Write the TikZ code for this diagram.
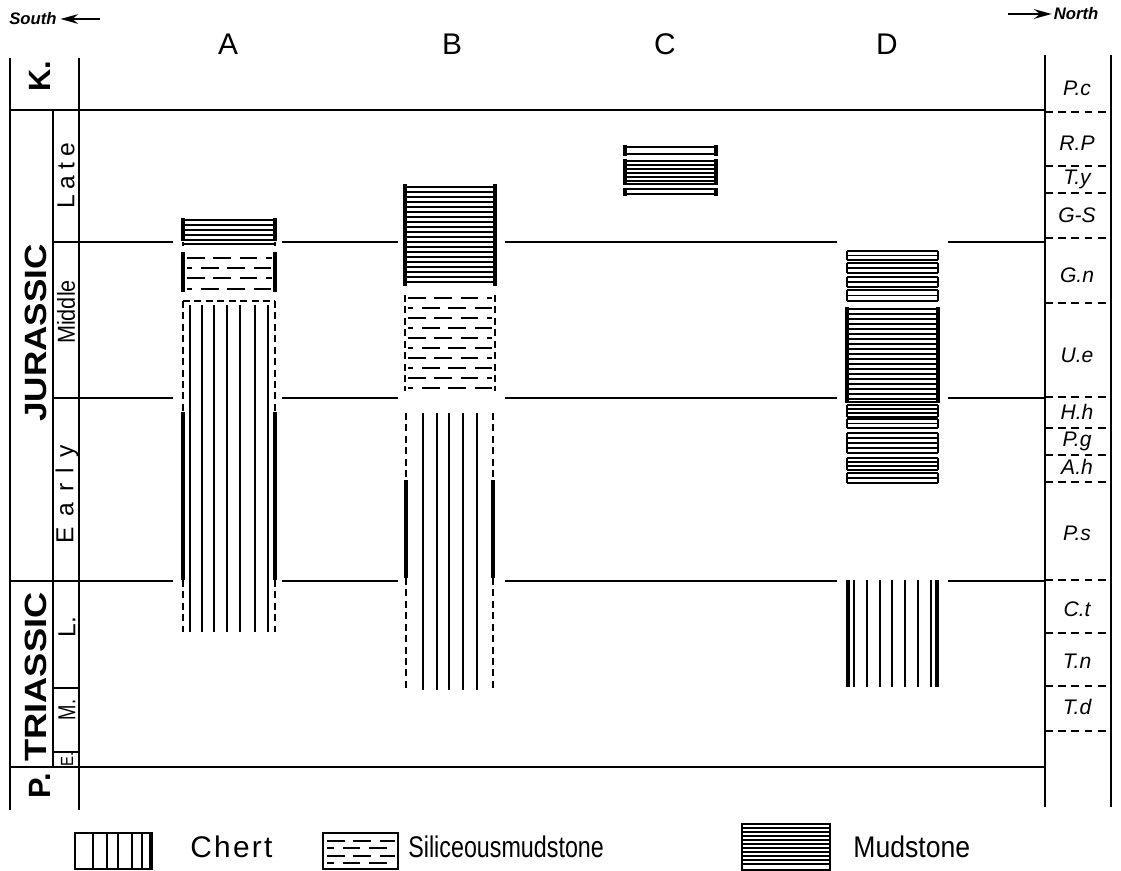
\documentclass[tikz,border=0pt]{standalone}
\usepackage{fontspec}
\setmainfont{Liberation Sans}
\usetikzlibrary{arrows.meta}
\newcommand\hsc[2]{\scalebox{#1}[1]{#2}}
\begin{document}
\begin{tikzpicture}[x=0.02cm,y=-0.02cm,
  frame/.style={line width=1.2pt},
  bnd/.style={line width=1.1pt},
  rdash/.style={line width=1pt,dash pattern=on 4.5pt off 3pt},
  lith/.style={line width=0.85pt},
  thk/.style={line width=2.2pt},
  sdash/.style={line width=1.1pt,dash pattern=on 10pt off 5pt},
  edash/.style={line width=1.4pt,dash pattern=on 4pt off 2.5pt},
  colhead/.style={font=\fontsize{17}{17}\selectfont,inner sep=0pt},
  era/.style={font=\bfseries\fontsize{17.5}{17.5}\selectfont,rotate=90,inner sep=0pt},
  epoch/.style={font=\fontsize{14}{14}\selectfont,rotate=90,inner sep=0pt},
  zone/.style={font=\itshape\fontsize{12}{12}\selectfont,inner sep=0pt},
  leg/.style={font=\fontsize{17}{17}\selectfont,inner sep=0pt,anchor=west},
  dir/.style={font=\bfseries\itshape\fontsize{9.5}{9.5}\selectfont,inner sep=0pt},
  arr/.style={line width=1pt,-{Stealth[length=10pt,width=5.5pt]}},
]
\useasboundingbox (0,0) rectangle (1121,871);

% ---------- frame ----------
\draw[frame] (10,58) -- (10,810);
\draw[frame] (79,58) -- (79,810);
\draw[frame] (53,110) -- (53,767);
\draw[frame] (1045,55) -- (1045,807);
\draw[frame] (1111,55) -- (1111,807);

\draw[bnd] (10,110) -- (1045,110);
\draw[bnd] (10,767) -- (1045,767);
\draw[bnd] (53,242) -- (173,242) (282,242) -- (398,242) (505,242) -- (837,242) (948,242) -- (1045,242);
\draw[bnd] (53,398) -- (173,398) (282,398) -- (398,398) (505,398) -- (837,398) (948,398) -- (1045,398);
\draw[bnd] (10,581) -- (173,581) (282,581) -- (398,581) (505,581) -- (837,581) (948,581) -- (1045,581);
\draw[bnd] (53,688) -- (79,688);
\draw[bnd] (53,752) -- (79,752);

% right zone column
\foreach \yy in {112,166,193,238,303,397,428,455,482,580,633,686,731}
  \draw[rdash] (1045,\yy) -- (1111,\yy);

% ---------- labels ----------
\node[dir] (south) at (33,19) {South};
\coordinate (sarr) at (100,19);
\draw[arr] (sarr) -- ([xshift=2pt]south.east);
\node[dir] (north) at (1076,14) {North};
\coordinate (narr) at (1008,14);
\draw[arr] (narr) -- ([xshift=-1pt]north.west);

\node[colhead] (hA) at (228,44) {A};
\node[colhead] (hB) at (452,44) {B};
\node[colhead] (hC) at (665,44) {C};
\node[colhead] (hD) at (887,44) {D};

\node[era] (kLab) at (40,76) {K.};
\node[era] (jurLab) at (36,333) {\hsc{1.14}{JURASSIC}};
\node[era] (triLab) at (36,677) {\hsc{1.18}{TRIASSIC}};
\node[era] (pLab) at (40,786) {P.};

\node[epoch] (late) at (66,176) {L\hspace{3.4pt}a\hspace{3.4pt}t\hspace{3.4pt}e};
\node[epoch] (mid) at (66,312) {\hsc{0.88}{Middle}};
\node[epoch] (early) at (67,494) {E\hspace{6pt}a\hspace{6pt}r\hspace{6pt}l\hspace{6pt}y};
\node[epoch] (lTri) at (67,627) {L.};
\node[epoch] (mTri) at (67,710) {\hsc{0.75}{M.}};
\node[epoch,font=\fontsize{10}{10}\selectfont] (eTri) at (67,759) {\hsc{0.85}{E.}};

\node[zone] (zPc) at (1077,88) {P.c};
\node[zone] (zRP) at (1077,143) {R.P};
\node[zone] (zTy) at (1077,179) {T.y};
\node[zone] (zGS) at (1077,215) {G-S};
\node[zone] (zGn) at (1077,275) {G.n};
\node[zone] (zUe) at (1077,355) {U.e};
\node[zone] (zHh) at (1077,412) {H.h};
\node[zone] (zPg) at (1077,441) {P.g};
\node[zone] (zAh) at (1077,467) {A.h};
\node[zone] (zPs) at (1077,533) {P.s};
\node[zone] (zCt) at (1077,609) {C.t};
\node[zone] (zTn) at (1077,661) {T.n};
\node[zone] (zTd) at (1077,707) {T.d};

% ---------- column A ----------
\foreach \yy in {220,225,230,235,240,244} \draw[lith] (183,\yy) -- (275,\yy);
\draw[thk] (183,218) -- (183,241) (275,218) -- (275,241);
\draw[lith] (183,242) -- (183,246) (275,242) -- (275,246);
\draw[thk] (183,252) -- (183,292) (275,252) -- (275,292);
\foreach \yy/\ph in {258/0,268/7,278/0,289/7}
  \draw[sdash,dash phase=\ph pt] (187,\yy) -- (272,\yy);
\draw[edash] (183,301) -- (275,301);
\draw[edash] (183,301) -- (183,412) (275,301) -- (275,412);
\draw[thk] (183,412) -- (183,580) (275,412) -- (275,580);
\draw[edash] (183,580) -- (183,632) (275,580) -- (275,632);
\foreach \xx in {190,202,214,227,240,255,268} \draw[lith] (\xx,305) -- (\xx,632);

% ---------- column B ----------
\foreach \yy in {187,192,...,283} \draw[lith] (405,\yy) -- (495,\yy);
\draw[thk] (405,184) -- (405,286) (495,184) -- (495,286);
\foreach \yy/\ph in {298/0,308/7,318/0,328/7,338/0,348/7,358/0,368/7,378/0,388/7}
  \draw[sdash,dash phase=\ph pt] (408,\yy) -- (492,\yy);
\draw[edash] (405,295) -- (405,391) (495,295) -- (495,391);
\draw[edash] (406,413) -- (406,480) (493,413) -- (493,480);
\draw[thk] (406,480) -- (406,578) (493,480) -- (493,578);
\draw[edash] (406,578) -- (406,690) (493,578) -- (493,690);
\foreach \xx in {423,437,449,463,477} \draw[lith] (\xx,413) -- (\xx,690);

% ---------- column C ----------
\foreach \yy in {147,154} \draw[lith] (625,\yy) -- (716,\yy);
\draw[thk] (625,145) -- (625,156) (716,145) -- (716,156);
\foreach \yy in {161,165,169,173,177,181,184} \draw[lith] (625,\yy) -- (716,\yy);
\draw[thk] (625,159) -- (625,185) (716,159) -- (716,185);
\foreach \yy in {189,194} \draw[lith] (625,\yy) -- (716,\yy);
\draw[thk] (625,188) -- (625,196) (716,188) -- (716,196);

% ---------- column D ----------
\foreach \ta/\tb/\n in {251/260/2,263/273/2,277/287/2,290/301/2,405/417/3,419/428/2,433/453/4,458/470/3,473/483/2}{
  \draw[line width=1.6pt] (847,\ta) -- (847,\tb) (938,\ta) -- (938,\tb);
  \foreach \k in {0,...,\n}{
    \pgfmathsetmacro\yy{\ta+(\tb-\ta)*\k/\n}
    \draw[lith] (847,\yy) -- (938,\yy);
  }
}
\foreach \yy in {309,314,...,399} \draw[lith] (847,\yy) -- (938,\yy);
\draw[lith] (847,402) -- (938,402);
\draw[thk] (847,307) -- (847,403) (938,307) -- (938,403);
\draw[thk] (848,580) -- (848,687) (937,580) -- (937,687);
\foreach \xx in {854,867,880,892,905,918,931} \draw[lith] (\xx,580) -- (\xx,687);

% ---------- legend ----------
\draw[lith] (75,833) rectangle (152,869);
\draw[thk] (151,833) -- (151,869);
\foreach \xx in {93,107,118,132,142} \draw[lith] (\xx,833) -- (\xx,869);
\node[leg] (legChert) at (190,847) {C\hspace{1.3pt}h\hspace{1.3pt}e\hspace{1.3pt}r\hspace{1.3pt}t};

\draw[lith] (323,833) rectangle (398,869);
\foreach \yy/\ph in {841/0,848/6,856/0,863/6}
  \draw[sdash,dash phase=\ph pt] (327,\yy) -- (395,\yy);
\node[leg] (legSil) at (408,847) {\hsc{0.78}{Siliceousmudstone}};

\draw[lith] (742,824) rectangle (830,870);
\foreach \yy in {828,832,...,867} \draw[lith] (742,\yy) -- (830,\yy);
\node[leg] (legMud) at (853,847) {\hsc{0.89}{Mudstone}};
\end{tikzpicture}
\end{document}
